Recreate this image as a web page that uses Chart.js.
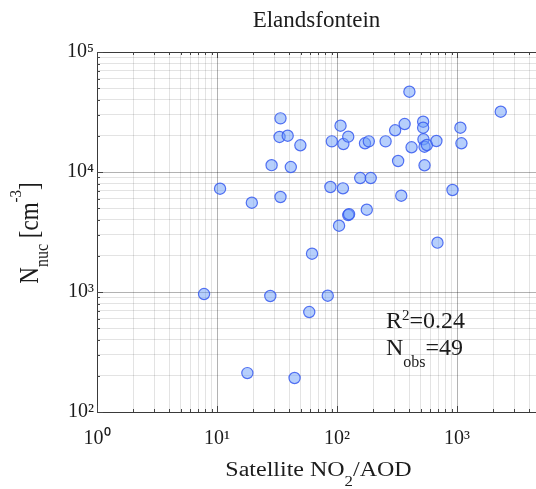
<!DOCTYPE html>
<html>
<head>
<meta charset="utf-8">
<script src="https://cdn.jsdelivr.net/npm/chart.js@4.4.1/dist/chart.umd.min.js"></script>
<style>
  html, body { margin: 0; padding: 0; background: #ffffff; overflow: hidden; }
  #wrap { width: 536px; height: 489px; }
  canvas { display: block; }
</style>
</head>
<body>
<div id="wrap"><canvas id="c" width="536" height="489"></canvas></div>
<script>
// ---- data (Satellite NO2/AOD vs N_nuc) ----
const xValues = [7.8, 10.6, 19.5, 17.9, 27.8, 28.5, 33.8, 33.2, 38.8, 33.8,
                 41.2, 49.5, 44.3, 58.7, 61.9, 83.7, 88.1, 90.5, 104, 107,
                 112, 113, 124, 124, 126, 156, 191, 177, 171, 184,
                 254, 305, 366, 323, 343, 401, 418, 522, 522, 525,
                 536, 561, 536, 673, 687, 917, 1067, 1088, 2313];
const yValues = [961, 7260, 5550, 211, 926, 11400, 28000, 19600, 20070, 6190,
                 11000, 16700, 192, 681, 2085, 931, 7500, 18000, 3570, 24300,
                 7310, 17100, 19700, 4380, 4450, 8910, 8910, 4850, 17350, 18000,
                 18000, 22260, 25100, 12350, 6345, 46700, 16060, 26260, 23400, 18730,
                 16250, 16790, 11380, 18130, 2577, 7080, 23400, 17350, 31800];
const xTickLabels = ['10\u2070', '10\u00B9', '10\u00B2', '10\u00B3'];      // 10^0 .. 10^3
const yTickLabels = ['10\u00B2', '10\u00B3', '10\u2074', '10\u2075'];      // 10^2 .. 10^5
const titleText = 'Elandsfontein';
const r2Text = '0.24';
const nObsText = '49';

const FONT = '"Liberation Serif", "Times New Roman", serif';
const TEXT = '#1c1c1c';

function isPow10(v) {
  const l = Math.log10(v);
  return Math.abs(l - Math.round(l)) < 1e-9;
}
function decadeTicks(e0, e1, max) {
  const out = [];
  for (let e = e0; e <= e1; e++) {
    for (let m = 1; m <= 9; m++) {
      const v = m * Math.pow(10, e);
      if (v <= max * 1.0000001) out.push({ value: v });
    }
  }
  return out;
}
function gridColor(c) {
  if (!c.tick) return 'rgba(0,0,0,0.12)';
  return isPow10(c.tick.value) ? 'rgba(0,0,0,0.30)' : 'rgba(0,0,0,0.11)';
}

function drawRich(ctx, segs, x, y, align) {
  let w = 0;
  for (const s of segs) {
    ctx.font = s.size + 'px ' + FONT;
    s.w = ctx.measureText(s.t).width;
    w += s.w;
  }
  let cx = align === 'center' ? x - w / 2 : x;
  ctx.textAlign = 'left';
  ctx.textBaseline = 'alphabetic';
  for (const s of segs) {
    ctx.font = s.size + 'px ' + FONT;
    ctx.fillText(s.t, cx, y + (s.dy || 0));
    cx += s.w;
  }
}

const decorPlugin = {
  id: 'decor',
  afterDraw(chart) {
    const ctx = chart.ctx;
    const a = chart.chartArea;
    const xs = chart.scales.x, ys = chart.scales.y;
    ctx.save();
    // top box line
    ctx.strokeStyle = '#3a3a3a';
    ctx.lineWidth = 1;
    ctx.beginPath();
    ctx.moveTo(a.left, Math.round(a.top) + 0.5);
    ctx.lineTo(a.right, Math.round(a.top) + 0.5);
    ctx.stroke();
    // inward tick marks
    ctx.strokeStyle = '#444';
    ctx.beginPath();
    for (const t of xs.ticks) {
      const px = Math.round(xs.getPixelForValue(t.value)) + 0.5;
      const len = isPow10(t.value) ? 6 : 3;
      ctx.moveTo(px, a.bottom); ctx.lineTo(px, a.bottom - len);
      ctx.moveTo(px, a.top); ctx.lineTo(px, a.top + len);
    }
    for (const t of ys.ticks) {
      const py = Math.round(ys.getPixelForValue(t.value)) + 0.5;
      const len = isPow10(t.value) ? 6 : 3;
      ctx.moveTo(a.left, py); ctx.lineTo(a.left + len, py);
    }
    ctx.stroke();

    ctx.fillStyle = TEXT;
    // x axis title
    ctx.save();
    ctx.translate(318.5, 476);
    ctx.scale(1.2, 1);
    drawRich(ctx, [
      { t: 'Satellite NO', size: 20 },
      { t: '2', size: 14, dy: 10 },
      { t: '/AOD', size: 20 }
    ], 0, 0, 'center');
    ctx.restore();

    // y axis title (rotated)
    ctx.save();
    ctx.translate(38, 233);
    ctx.rotate(-Math.PI / 2);
    ctx.scale(1, 1.15);
    drawRich(ctx, [
      { t: 'N', size: 23 },
      { t: 'nuc', size: 16, dy: 9 },
      { t: ' [cm', size: 23 },
      { t: '-3', size: 15, dy: -15 },
      { t: ']', size: 23 }
    ], 0, 0, 'center');
    ctx.restore();

    // annotation
    drawRich(ctx, [
      { t: 'R', size: 24 },
      { t: '2', size: 15, dy: -8 },
      { t: '=' + r2Text, size: 24 }
    ], 386, 328, 'left');
    drawRich(ctx, [
      { t: 'N', size: 24 },
      { t: 'obs', size: 16, dy: 12 },
      { t: '=' + nObsText, size: 24 }
    ], 386, 355, 'left');
    ctx.restore();
  }
};

function build() {
  const points = xValues.map((x, i) => ({ x: x, y: yValues[i] }));
  new Chart(document.getElementById('c').getContext('2d'), {
    type: 'scatter',
    data: {
      datasets: [{
        data: points,
        pointStyle: 'circle',
        pointRadius: 5.6,
        pointHoverRadius: 5.6,
        borderWidth: 1.2,
        backgroundColor: 'rgba(110,160,250,0.50)',
        borderColor: 'rgba(55,90,240,0.85)'
      }]
    },
    options: {
      responsive: false,
      animation: false,
      devicePixelRatio: 1,
      layout: { padding: 0, autoPadding: false },
      events: [],
      plugins: {
        legend: { display: false },
        tooltip: { enabled: false },
        title: {
          display: true,
          text: titleText,
          fullSize: false,
          color: TEXT,
          font: { family: FONT, size: 23, weight: 'normal', lineHeight: 1.2 },
          padding: { top: 7, bottom: 17.4 }
        }
      },
      scales: {
        x: {
          type: 'logarithmic',
          min: 1,
          max: 4550,
          afterBuildTicks: (s) => { s.ticks = decadeTicks(0, 3, 4550); },
          afterFit: (s) => { s.height = 77; s.paddingLeft = 0; s.paddingRight = 0; },
          ticks: {
            autoSkip: false,
            maxRotation: 0,
            minRotation: 0,
            padding: 15,
            color: TEXT,
            font: { family: FONT, size: 20 },
            callback: (v) => isPow10(v) ? xTickLabels[Math.round(Math.log10(v))] : ''
          },
          grid: { color: gridColor, lineWidth: 1, drawTicks: false },
          border: { display: true, color: '#3a3a3a', width: 1 }
        },
        y: {
          type: 'logarithmic',
          min: 100,
          max: 100000,
          afterBuildTicks: (s) => { s.ticks = decadeTicks(2, 5, 100000); },
          afterFit: (s) => { s.width = 97; s.paddingTop = 0; s.paddingBottom = 0; },
          ticks: {
            autoSkip: false,
            padding: 3,
            color: TEXT,
            font: { family: FONT, size: 20 },
            callback: (v) => isPow10(v) ? yTickLabels[Math.round(Math.log10(v)) - 2] : ''
          },
          grid: { color: gridColor, lineWidth: 1, drawTicks: false },
          border: { display: true, color: '#3a3a3a', width: 1 }
        }
      }
    },
    plugins: [decorPlugin]
  });
}

if (document.fonts && document.fonts.load) {
  Promise.all([
    document.fonts.load('20px "Liberation Serif"')
  ]).then(build, build);
} else {
  build();
}
</script>
</body>
</html>
